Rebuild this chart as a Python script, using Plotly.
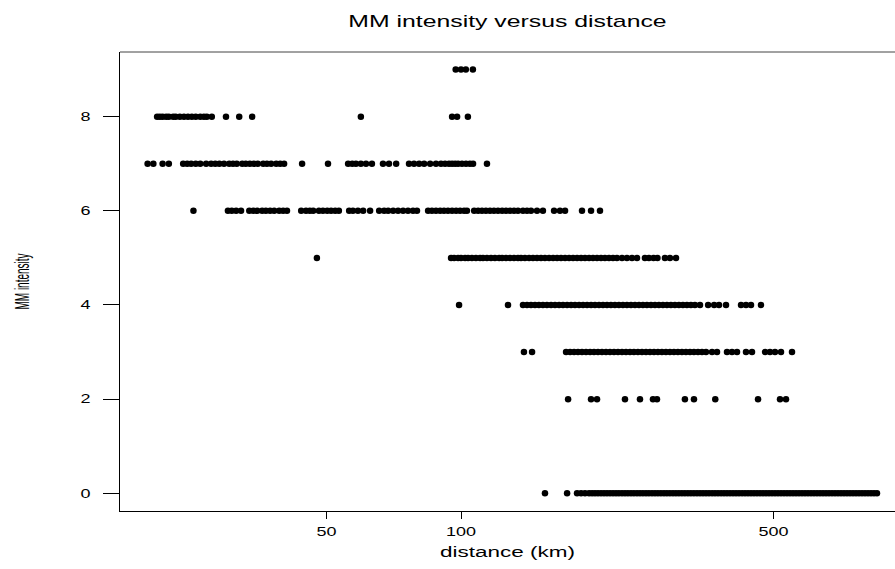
import plotly.graph_objects as go

# distances (km) for each MM intensity level
dist_mm9 = [97.3, 100.0, 102.5, 106.3]
dist_mm8 = [20.9, 21.2, 21.5, 21.9, 22.2, 22.7, 23.0, 23.5, 24.0, 24.5, 25.0, 25.5, 26.1, 26.6,
            27.0, 27.7, 29.8, 31.9, 34.1, 59.7, 95.5, 98.0, 103.6]
dist_mm7 = [19.9, 20.5, 21.5, 22.2, 23.9, 24.4, 24.9, 25.5, 26.1, 26.9, 27.6, 28.2, 28.8, 29.5,
            30.3, 30.9, 31.5, 32.4, 33.0, 33.7, 34.4, 35.1, 36.1, 36.8, 37.6, 38.6, 39.4, 40.2,
            44.1, 50.4, 55.9, 57.1, 58.2, 59.7, 61.3, 63.2, 66.9, 69.0, 71.6, 76.5, 78.5, 80.6,
            82.7, 85.3, 87.9, 90.2, 92.1, 94.0, 95.5, 97.0, 98.5, 100.5, 102.6, 104.7, 106.4, 114.3]
dist_mm6 = [25.2, 30.1, 30.7, 31.4, 32.2, 33.6, 34.3, 35.0, 35.9, 36.6, 37.4, 38.2, 39.2, 40.0,
            40.8, 43.9, 45.0, 45.9, 46.7, 48.1, 49.1, 50.2, 51.2, 52.3, 53.3, 56.2, 57.3, 58.8,
            60.4, 62.6, 65.6, 67.3, 68.7, 70.5, 72.3, 74.2, 76.1, 78.1, 79.7, 84.4, 86.1, 87.9,
            89.8, 91.6, 93.5, 95.5, 97.5, 99.5, 101.6, 103.1, 107.0, 109.2, 111.4, 113.7, 116.1,
            118.5, 121.0, 123.6, 126.1, 128.7, 131.4, 134.1, 137.6, 140.5, 143.4, 147.9, 152.5,
            161.5, 166.5, 170.9, 186.5, 195.4, 204.6]
dist_mm5 = [47.6, 95.0, 96.5, 98.5, 100.0, 102.1, 103.7, 105.8, 108.0, 110.3, 112.0, 114.3, 116.7,
            119.1, 121.7, 123.6, 126.1, 128.7, 131.4, 134.1, 136.2, 139.0, 142.0, 144.9, 147.9,
            151.0, 154.1, 157.4, 160.7, 164.0, 167.4, 170.9, 174.5, 178.1, 181.8, 185.6, 189.4,
            193.4, 197.4, 201.5, 205.7, 209.9, 214.3, 218.8, 223.3, 229.2, 235.1, 241.3, 247.6,
            257.9, 263.3, 269.6, 275.1, 285.9, 293.4, 302.7]
dist_mm4 = [99.0, 127.4, 137.6, 140.5, 143.4, 146.4, 149.4, 152.5, 155.7, 159.0, 162.3, 165.7,
            169.1, 172.7, 176.3, 179.9, 183.7, 187.5, 191.4, 195.4, 199.4, 203.6, 207.8, 212.1,
            216.5, 221.0, 225.6, 230.3, 235.1, 240.0, 245.0, 250.1, 255.3, 260.6, 266.1, 271.6,
            277.2, 283.0, 288.9, 294.9, 301.0, 307.3, 313.7, 320.2, 326.9, 333.7, 342.5, 357.1,
            368.4, 377.7, 391.6, 423.1, 434.1, 445.4, 469.0]
dist_mm3 = [138.3, 144.2, 171.8, 175.4, 179.0, 182.7, 186.5, 190.4, 194.4, 198.4, 202.5, 206.7,
            211.0, 215.4, 219.9, 224.5, 229.2, 233.9, 238.8, 243.7, 248.8, 254.0, 259.3, 264.7,
            270.2, 275.8, 281.5, 287.4, 293.4, 299.5, 305.7, 312.1, 318.6, 325.3, 332.0, 339.0,
            346.0, 353.2, 364.4, 373.9, 393.6, 403.9, 414.4, 434.1, 447.7, 478.8, 491.2, 504.0,
            519.9, 550.2]
dist_mm2 = [173.6, 195.4, 201.5, 232.7, 251.4, 268.8, 274.4, 316.9, 332.0, 370.5, 461.8, 517.2, 533.4]
dist_mm0 = [154.1, 172.7, 181.8, 185.6, 189.4, 193.4, 196.4, 199.4, 202.5, 205.7, 208.9, 212.1,
            215.4, 218.8, 222.2, 225.6, 229.2, 232.7, 236.3, 240.0, 243.7, 247.6, 251.4, 255.3,
            259.3, 263.3, 267.5, 271.6, 275.8, 280.1, 284.5, 288.9, 293.4, 298.0, 302.6, 307.3,
            312.1, 316.9, 321.9, 326.9, 332.0, 337.2, 342.5, 347.8, 353.2, 358.7, 364.4, 370.0,
            375.8, 381.7, 387.6, 393.6, 399.8, 406.0, 412.3, 418.7, 425.3, 431.9, 438.6, 445.4,
            452.3, 459.4, 466.6, 473.8, 481.2, 488.7, 496.3, 504.0, 511.9, 519.9, 528.0, 536.2,
            544.5, 553.0, 561.6, 570.3, 579.2, 588.2, 597.3, 606.7, 616.1, 625.7, 635.5, 645.4,
            655.4, 665.6, 676.0, 686.5, 697.2, 708.1, 719.1, 730.3, 741.7, 753.2, 765.0, 776.9,
            789.0, 801.3, 813.7, 826.4, 839.3, 852.3]

levels = {9: dist_mm9, 8: dist_mm8, 7: dist_mm7, 6: dist_mm6, 5: dist_mm5,
          4: dist_mm4, 3: dist_mm3, 2: dist_mm2, 0: dist_mm0}

x_tickvals = [50, 100, 500]
y_tickvals = [0, 2, 4, 6, 8]

xs, ys = [], []
for mm, dists in levels.items():
    xs.extend(dists)
    ys.extend([mm] * len(dists))

FONT = "Liberation Sans, Arial, sans-serif"

fig = go.Figure(go.Scatter(
    x=xs, y=ys, mode="markers",
    marker=dict(color="black", size=6.5, line=dict(width=0)),
    hoverinfo="skip",
))

fig.update_layout(
    width=895, height=569,
    margin=dict(l=120, r=0, t=52, b=58),
    paper_bgcolor="white", plot_bgcolor="white",
    showlegend=False,
    font=dict(family=FONT, color="black"),
    title=dict(text="MM intensity versus distance", x=0.5, xref="paper", xanchor="center",
               y=1 - 21 / 569, yref="container", yanchor="middle",
               font=dict(size=16, family=FONT, color="black")),
    # top edge of the plot box (the right edge lies outside the picture)
    shapes=[dict(type="line", xref="paper", yref="paper", x0=0, x1=1, y0=1, y1=1,
                 line=dict(color="#444444", width=1))],
)
fig.update_xaxes(
    type="log", range=[1.2371, 2.9709],
    tickvals=x_tickvals, ticktext=[str(v) for v in x_tickvals],
    ticks="outside", ticklen=7, tickwidth=1, tickcolor="black",
    ticklabelstandoff=3,
    showline=True, linecolor="black", linewidth=1, mirror=False,
    showgrid=False, zeroline=False,
    tickfont=dict(size=12, family=FONT, color="black"),
    title=dict(text="distance (km)", font=dict(size=15, family=FONT, color="black"), standoff=8),
)
fig.update_yaxes(
    range=[-0.376, 9.373],
    tickvals=y_tickvals, ticktext=[str(v) for v in y_tickvals],
    ticks="outside", ticklen=16, tickwidth=1, tickcolor="black",
    ticklabelstandoff=10,
    showline=True, linecolor="black", linewidth=1, mirror=False,
    showgrid=False, zeroline=False,
    tickfont=dict(size=12, family=FONT, color="black"),
    title=dict(text="MM intensity", font=dict(size=10, family=FONT, color="black"), standoff=52),
)

post = """
(function(){
  var gd = document.getElementById('{plot_id}');
  function stretch(){
    var sel = [['.gtitle',1.55,1],['.xtitle',1.5,1],['.xtick text',1.5,1],['.ytick text',1.5,1],['.ytitle',1,2]];
    sel.forEach(function(s){
      gd.querySelectorAll(s[0]).forEach(function(el){
        if (el.getAttribute('data-stretched')) return;
        var x = parseFloat(el.getAttribute('x')) || 0, y = parseFloat(el.getAttribute('y')) || 0;
        var t = el.getAttribute('transform') || '';
        el.setAttribute('transform', t + ' translate(' + x + ',' + y + ') scale(' + s[1] + ',' + s[2] + ') translate(' + (-x) + ',' + (-y) + ')');
        el.setAttribute('data-stretched', '1');
      });
    });
  }
  stretch();
  if (gd.on) gd.on('plotly_afterplot', stretch);
})();
"""

fig.write_html("out.html", post_script=post, config={"displayModeBar": False})
